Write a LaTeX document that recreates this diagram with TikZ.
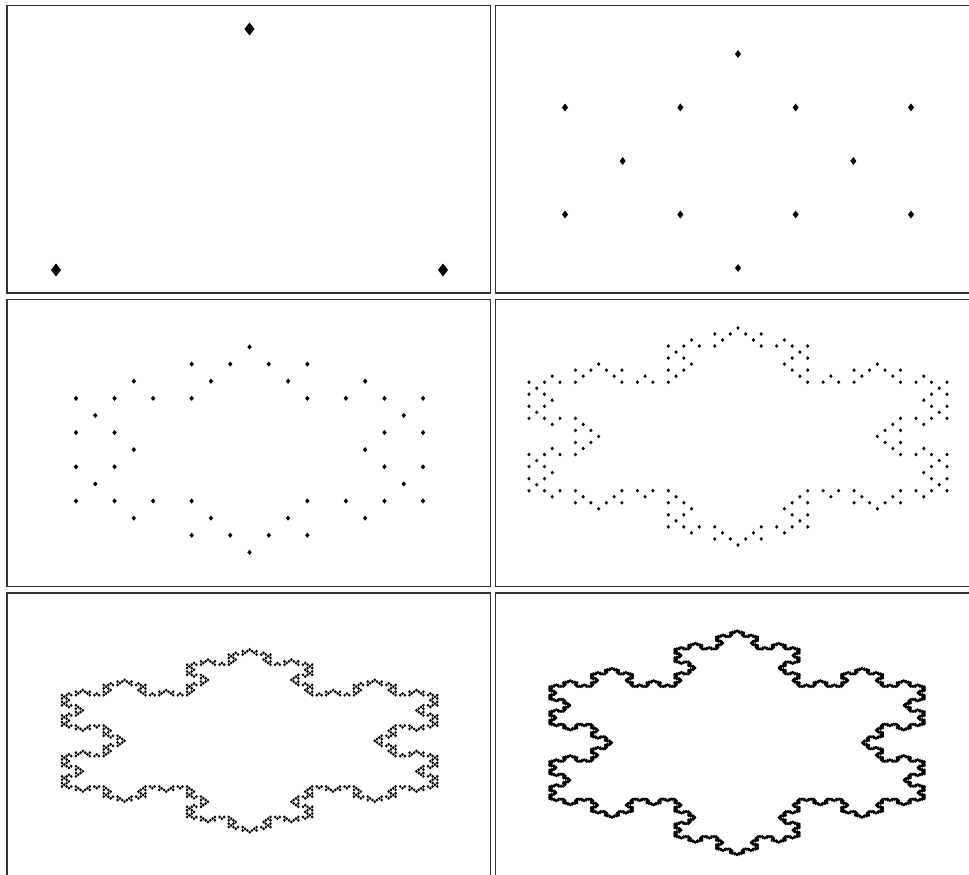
\documentclass[tikz,border=0pt]{standalone}
\usepackage{tikz}
\usetikzlibrary{calc}

% one vertex of the curve, mapped into the current panel
\newcommand\kochpt[2]{%
  \pgfmathsetmacro\kpx{\kox+\ksx*(#1)}%
  \pgfmathsetmacro\kpy{\koy-\ksy*(#2)}%
  \fill[dotmark] (\kpx,\kpy) +(0,-\kmh) -- +(\kmw,0) -- +(0,\kmh) -- +(-\kmw,0) -- cycle;}

% split a side into four and recurse
\newcommand\kochsplit[5]{%
  \begingroup
  \pgfmathsetmacro\kdx{((#4)-(#2))/3}%
  \pgfmathsetmacro\kdy{((#5)-(#3))/3}%
  \pgfmathsetmacro\kax{(#2)+\kdx}%
  \pgfmathsetmacro\kay{(#3)+\kdy}%
  \pgfmathsetmacro\kbx{\kax+0.5*\kdx+0.8660254*\kdy}%
  \pgfmathsetmacro\kby{\kay-0.8660254*\kdx+0.5*\kdy}%
  \pgfmathsetmacro\kcx{(#2)+2*\kdx}%
  \pgfmathsetmacro\kcy{(#3)+2*\kdy}%
  \edef\knext{%
    \noexpand\kochseg{\the\numexpr#1-1\relax}{#2}{#3}{\kax}{\kay}%
    \noexpand\kochseg{\the\numexpr#1-1\relax}{\kax}{\kay}{\kbx}{\kby}%
    \noexpand\kochseg{\the\numexpr#1-1\relax}{\kbx}{\kby}{\kcx}{\kcy}%
    \noexpand\kochseg{\the\numexpr#1-1\relax}{\kcx}{\kcy}{#4}{#5}}%
  \expandafter\endgroup\knext}

\newcommand\kochseg[5]{%
  \ifnum#1=0 \kochpt{#2}{#3}\else\kochsplit{#1}{#2}{#3}{#4}{#5}\fi}

% origin x/y, scale x/y, mark half width/height, level
\newcommand\kochpanel[7]{%
  \def\kox{#1}\def\koy{#2}\def\ksx{#3}\def\ksy{#4}\def\kmw{#5}\def\kmh{#6}%
  \kochseg{#7}{0}{0}{3}{0}%
  \kochseg{#7}{3}{0}{1.5}{2.5980762}%
  \kochseg{#7}{1.5}{2.5980762}{0}{0}}

\begin{document}
\begin{tikzpicture}[x=1pt,y=-1pt,
  frame/.style={draw=black!80,line width=1.6pt},
  dotmark/.style={fill=black}
]
  \clip (0,0) rectangle (969,875);
  \fill[white] (0,0) rectangle (969,875);
  % panel frames
  \foreach \px in {6.8,495.3}{\foreach \py in {5.7,299.3,592.7}{
    \draw[frame] (\px,\py) rectangle ++(483.7,287.3);
  }}
  % levels 0 to 5
  \kochpanel{56}{270}{129}{92.76}{5}{6.5}{0}
  \kochpanel{565}{214.5}{115.33}{61.78}{3}{4}{1}
  \kochpanel{76}{501}{115.67}{59.27}{2.2}{2.6}{2}
  \kochpanel{529}{490.7}{139.33}{62.64}{1.7}{1.9}{3}
  \kochpanel{62}{786.5}{125.1}{52.74}{1.4}{1.6}{4}
  \kochpanel{549.4}{798.9}{125.07}{64.81}{1.2}{1.4}{5}
\end{tikzpicture}
\end{document}
